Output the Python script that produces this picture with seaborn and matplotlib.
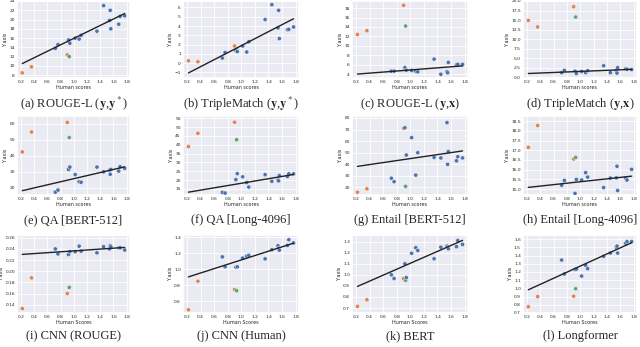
import numpy as np
import pandas as pd
import seaborn as sns
import matplotlib.pyplot as plt
from matplotlib.ticker import MultipleLocator

# human scores shared by every panel
HUMAN_BLUE = [0.72, 0.76, 0.92, 0.94, 1.02, 1.08, 1.11, 1.35, 1.45, 1.54, 1.55, 1.56, 1.68, 1.70, 1.77]
HUMAN_ORANGE = [0.22, 0.36, 0.90]
HUMAN_GREEN = [0.93]

a_blue = [13.8, 14.6, 15.6, 14.9, 16.0, 15.8, 16.6, 17.5, 23.0, 19.8, 22.0, 18.0, 19.0, 20.7, 20.8]
a_orange = [8.5, 9.8, 12.4]
a_green = [12.0]

b_blue = [0.55, 1.15, 1.35, 1.25, 1.85, 1.2, 2.3, 4.7, 6.3, 3.8, 5.7, 2.65, 3.6, 3.65, 3.9]
b_orange = [0.25, 0.15, 1.85]
b_green = [1.5]

c_blue = [4.65, 4.65, 5.4, 4.85, 4.8, 4.6, 4.5, 7.2, 4.0, 4.55, 4.3, 6.5, 6.0, 6.1, 6.1]
c_orange = [12.4, 13.2, 18.6]
c_green = [14.2]

d_blue = [1.2, 1.8, 1.6, 1.0, 1.5, 1.2, 1.7, 3.0, 1.2, 1.8, 1.1, 2.5, 2.2, 2.1, 2.0]
d_orange = [14.9, 13.2, 18.5]
d_green = [15.8]

e_blue = [17.3, 18.6, 31.5, 33.0, 28.3, 23.8, 23.5, 33.0, 30.0, 31.0, 28.5, 31.5, 30.5, 33.2, 32.2]
e_orange = [42.5, 55.0, 61.0]
e_green = [51.5]

f_blue = [13.0, 12.6, 20.2, 23.6, 21.8, 18.6, 16.0, 23.0, 19.3, 20.0, 19.5, 22.5, 22.0, 23.5, 23.5]
f_orange = [39.0, 46.5, 52.8]
f_green = [42.8]

g_blue = [28.0, 25.0, 71.5, 48.0, 63.0, 30.7, 50.0, 46.0, 45.5, 76.0, 40.0, 51.0, 43.0, 46.5, 45.5]
g_orange = [15.9, 18.8, 71.0]
g_green = [21.0]

h_blue = [15.2, 15.45, 14.78, 15.5, 15.47, 15.85, 15.62, 15.08, 15.57, 15.58, 16.18, 14.93, 15.57, 15.47, 16.02]
h_orange = [17.15, 18.27, 16.55]
h_green = [16.63]

i_blue = [0.240, 0.231, 0.230, 0.235, 0.235, 0.245, 0.236, 0.233, 0.244, 0.240, 0.246, 0.244, 0.242, 0.242, 0.238]
i_orange = [0.133, 0.188, 0.160]
i_green = [0.171]

j_blue = [1.155, 1.03, 1.025, 1.03, 1.14, 1.165, 1.175, 1.13, 1.245, 1.295, 1.26, 1.24, 1.30, 1.37, 1.33]
j_orange = [0.49, 0.85, 0.745]
j_green = [0.73]

k_blue = [1.0, 0.967, 1.10, 0.975, 1.195, 1.245, 1.22, 1.145, 1.25, 1.26, 1.25, 1.235, 1.255, 1.31, 1.275]
k_orange = [0.715, 0.775, 0.965]
k_green = [0.95]

l_blue = [1.345, 1.175, 1.23, 1.235, 1.15, 1.28, 1.24, 1.39, 1.43, 1.50, 1.515, 1.43, 1.55, 1.57, 1.57]
l_orange = [0.776, 0.90, 0.905]
l_green = [0.995]

CAPTIONS = [
    r'(a) ROUGE-L ($\mathbf{y}$,$\mathbf{y}^*$)',
    r'(b) TripleMatch ($\mathbf{y}$,$\mathbf{y}^*$)',
    r'(c) ROUGE-L ($\mathbf{y}$,$\mathbf{x}$)',
    r'(d) TripleMatch ($\mathbf{y}$,$\mathbf{x}$)',
    '(e) QA [BERT-512]',
    '(f) QA [Long-4096]',
    '(g) Entail [BERT-512]',
    '(h) Entail [Long-4096]',
    '(i) CNN (ROUGE)',
    '(j) CNN (Human)',
    '(k) BERT',
    '(l) Longformer',
]

PANELS = [
    (a_blue, a_orange, a_green, (7.4, 24.0), 2),
    (b_blue, b_orange, b_green, (-1.6, 6.7), 1),
    (c_blue, c_orange, c_green, (3.2, 19.5), 2),
    (d_blue, d_orange, d_green, (-0.2, 20.0), 2.5),
    (e_blue, e_orange, e_green, (15.5, 65.0), 10),
    (f_blue, f_orange, f_green, (11.5, 56.3), 5),
    (g_blue, g_orange, g_green, (13.5, 81.7), 10),
    (h_blue, h_orange, h_green, (14.7, 18.76), 0.5),
    (i_blue, i_orange, i_green, (0.125, 0.265), 0.02),
    (j_blue, j_orange, j_green, (0.45, 1.43), 0.2),
    (k_blue, k_orange, k_green, (0.655, 1.36), 0.1),
    (l_blue, l_orange, l_green, (0.70, 1.65), 0.1),
]

PALETTE = {'blue': '#4C72B0', 'orange': '#DD8452', 'green': '#55A868'}

sns.set_theme(style='darkgrid')
plt.rcParams['mathtext.fontset'] = 'stix'

W, H = 640, 347
fig = plt.figure(figsize=(6.4, 3.47), dpi=100)

col_px = [(17, 130), (183, 299), (352, 468), (523, 637)]
row_px = [(1, 78), (116, 195), (235, 313)]
caption_y = [104, 220, 336]


def draw_panel(ax, blue, orange, green, ylim, ystep, xlabel):
    df = pd.DataFrame({
        'x': HUMAN_ORANGE + HUMAN_GREEN + HUMAN_BLUE,
        'y': orange + green + blue,
        'group': ['orange'] * len(orange) + ['green'] * len(green) + ['blue'] * len(blue),
    })
    sns.scatterplot(data=df, x='x', y='y', hue='group', palette=PALETTE,
                    s=9, edgecolor='white', linewidth=0.3, legend=False, ax=ax, zorder=3)

    # regression line fitted on the blue systems, drawn over all human scores
    slope, intercept = np.polyfit(HUMAN_BLUE, blue, 1)
    xs = np.array([min(df['x']), max(df['x'])])
    ax.plot(xs, slope * xs + intercept, color='#222222', linewidth=1.0, zorder=4)

    ax.set_xlim(0.14, 1.85)
    ax.set_ylim(*ylim)
    ax.xaxis.set_major_locator(MultipleLocator(0.2))
    ax.yaxis.set_major_locator(MultipleLocator(ystep))
    ax.tick_params(labelsize=3.2, length=0, pad=1.5)
    ax.grid(color='white', linewidth=0.6)
    ax.set_xlabel(xlabel, fontsize=3.5, labelpad=1)
    ax.set_ylabel('Y axis', fontsize=3.5, labelpad=1)


for idx, (blue, orange, green, ylim, ystep) in enumerate(PANELS):
    r, c = divmod(idx, 4)
    x0, x1 = col_px[c]
    y0, y1 = row_px[r]
    ax = fig.add_axes([x0 / W, 1 - y1 / H, (x1 - x0) / W, (y1 - y0) / H])
    xlabel = 'Human Scores' if r == 2 else 'Human scores'
    draw_panel(ax, blue, orange, green, ylim, ystep, xlabel)
    fig.text((x0 + x1) / 2 / W, 1 - caption_y[r] / H, CAPTIONS[idx],
             ha='center', va='center', fontsize=9, family='Liberation Serif')

fig.savefig('out.png', dpi=100)
